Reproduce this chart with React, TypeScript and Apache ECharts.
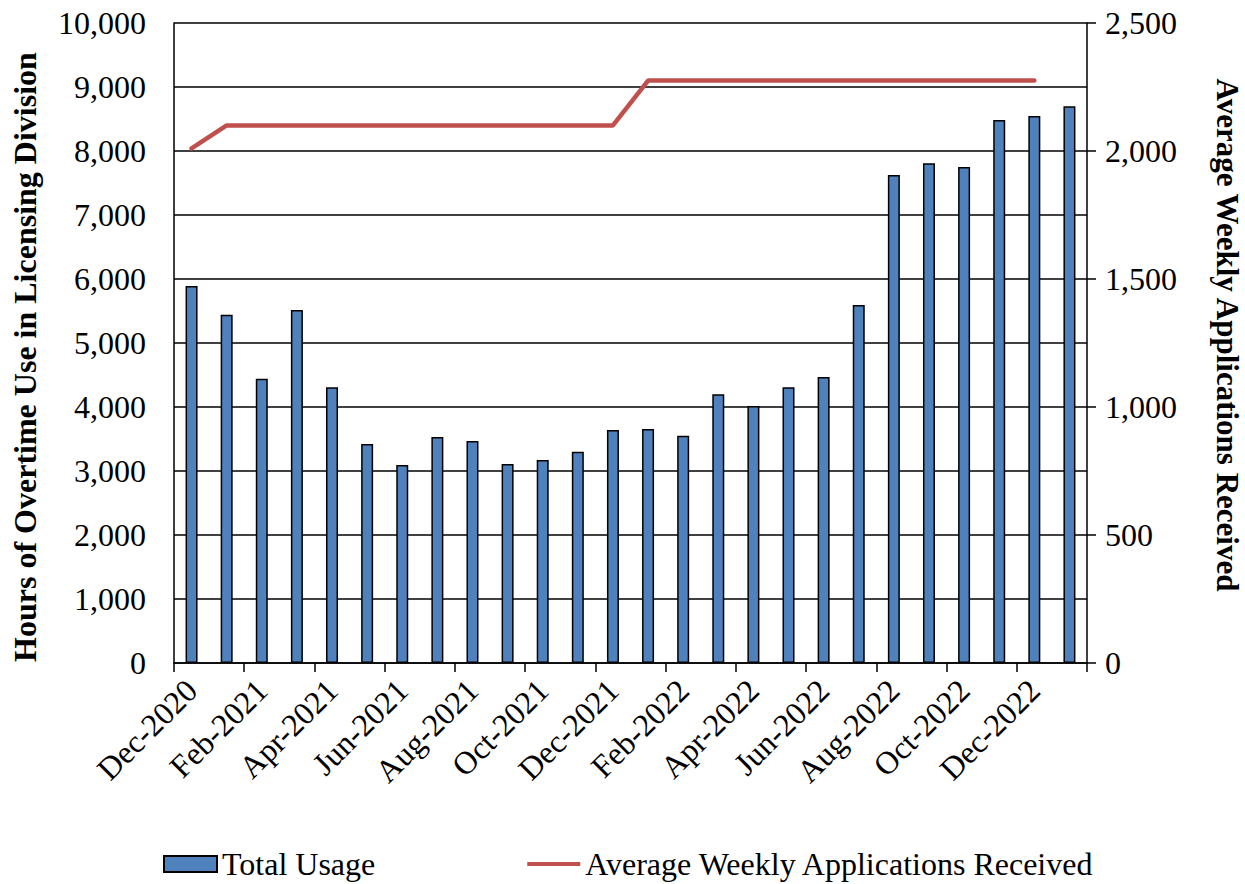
import React, { useEffect, useRef } from "react";
import * as echarts from "echarts";

const months = [
  "Dec-2020", "Jan-2021", "Feb-2021", "Mar-2021", "Apr-2021", "May-2021", "Jun-2021",
  "Jul-2021", "Aug-2021", "Sep-2021", "Oct-2021", "Nov-2021", "Dec-2021", "Jan-2022",
  "Feb-2022", "Mar-2022", "Apr-2022", "May-2022", "Jun-2022", "Jul-2022", "Aug-2022",
  "Sep-2022", "Oct-2022", "Nov-2022", "Dec-2022", "Jan-2023",
];

const totalUsage = [
  5890, 5440, 4440, 5515, 4310, 3420, 3095, 3530, 3470, 3110, 3170, 3300, 3640, 3655,
  3550, 4200, 4015, 4310, 4470, 5595, 7625, 7810, 7750, 8485, 8545, 8700,
];

const avgWeeklyApps: (number | null)[] = [
  2010, 2100, 2100, 2100, 2100, 2100, 2100, 2100, 2100, 2100, 2100, 2100, 2100, 2275,
  2275, 2275, 2275, 2275, 2275, 2275, 2275, 2275, 2275, 2275, 2275, null,
];

const FONT = "'Liberation Serif', 'Times New Roman', serif";
const LINE_ICON = "path://M0,0H0.1V0.1H0Z M0,6H54V10H0Z M0,15.9H0.1V16H0Z";

export default function App() {
  const ref = useRef<HTMLDivElement>(null);
  useEffect(() => {
    if (!ref.current) return;
    const chart = echarts.init(ref.current, undefined, { renderer: "svg" });
    chart.setOption({
      animation: false,
      textStyle: { fontFamily: FONT, color: "#000" },
      grid: {
        left: 174,
        right: 158,
        top: 23,
        bottom: 221,
        containLabel: false,
        outerBoundsMode: "none",
      },
      legend: {
        left: 158,
        top: 843,
        itemWidth: 53,
        itemHeight: 16,
        itemGap: 152,
        textStyle: { fontFamily: FONT, fontSize: 32, lineHeight: 32, color: "#000" },
        data: [
          { name: "Total Usage", icon: "rect" },
          { name: "Average Weekly Applications Received", icon: LINE_ICON },
        ],
      },
      xAxis: {
        type: "category",
        data: months,
        boundaryGap: true,
        axisLine: { show: true, lineStyle: { color: "#000", width: 1.5 } },
        axisTick: { show: true, interval: 1, length: 9, lineStyle: { color: "#000", width: 1.5 } },
        axisLabel: {
          interval: 1,
          rotate: 45,
          margin: 22,
          fontSize: 32,
          fontFamily: FONT,
          color: "#000",
        },
      },
      yAxis: [
        {
          type: "value",
          min: 0,
          max: 10000,
          interval: 1000,
          name: "Hours of Overtime Use in Licensing Division",
          nameLocation: "middle",
          nameGap: 133,
          nameTextStyle: {
            fontFamily: FONT,
            fontSize: 32,
            fontWeight: "bold",
            color: "#000",
            padding: [0, 28, 0, 0],
          },
          axisLine: { show: true, lineStyle: { color: "#000", width: 1.5 } },
          axisTick: { show: false },
          axisLabel: {
            margin: 28,
            fontSize: 32,
            fontFamily: FONT,
            color: "#000",
            formatter: (v: number) => v.toLocaleString("en-US"),
          },
          splitLine: { show: true, lineStyle: { color: "#000", width: 1.5 } },
        },
        {
          type: "value",
          min: 0,
          max: 2500,
          interval: 500,
          position: "right",
          name: "Average Weekly Applications Received",
          nameLocation: "middle",
          nameRotate: -90,
          nameGap: 125,
          nameTextStyle: {
            fontFamily: FONT,
            fontSize: 31,
            fontWeight: "bold",
            color: "#000",
            padding: [0, 16, 0, 0],
          },
          axisLine: { show: true, lineStyle: { color: "#000", width: 1.5 } },
          axisTick: { show: true, inside: false, length: 9, lineStyle: { color: "#000", width: 1.5 } },
          axisLabel: {
            margin: 18,
            fontSize: 32,
            fontFamily: FONT,
            color: "#000",
            formatter: (v: number) => v.toLocaleString("en-US"),
          },
          splitLine: { show: false },
        },
      ],
      series: [
        {
          name: "Total Usage",
          type: "bar",
          yAxisIndex: 0,
          data: totalUsage,
          barWidth: 12,
          itemStyle: { color: "#4F81BD", borderColor: "#000", borderWidth: 1.5 },
        },
        {
          name: "Average Weekly Applications Received",
          type: "line",
          yAxisIndex: 1,
          data: avgWeeklyApps,
          symbol: "none",
          showSymbol: false,
          connectNulls: false,
          lineStyle: { color: "#C0504D", width: 4.5, cap: "round" },
          itemStyle: { color: "#C0504D" },
        },
      ],
    });
    return () => chart.dispose();
  }, []);
  return (
    <div
      ref={ref}
      style={{ position: "absolute", left: 0, top: 0, width: 1245, height: 884 }}
    />
  );
}
